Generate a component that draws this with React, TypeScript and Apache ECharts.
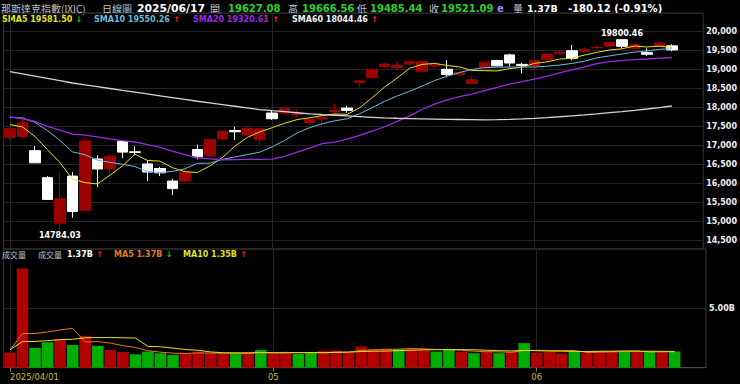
import React, { useEffect, useRef } from 'react';
import * as echarts from 'echarts';

const TITLE = '那斯達克指數(IXIC)';
const PERIOD = '日線圖';
const VOL_TITLE = '成交量';

const dates = [
  '2025/04/01','2025/04/02','2025/04/03','2025/04/04','2025/04/07','2025/04/08','2025/04/09','2025/04/10','2025/04/11','2025/04/14',
  '2025/04/15','2025/04/16','2025/04/17','2025/04/21','2025/04/22','2025/04/23','2025/04/24','2025/04/25','2025/04/28','2025/04/29',
  '2025/04/30','2025/05/01','2025/05/02','2025/05/05','2025/05/06','2025/05/07','2025/05/08','2025/05/09','2025/05/12','2025/05/13',
  '2025/05/14','2025/05/15','2025/05/16','2025/05/19','2025/05/20','2025/05/21','2025/05/22','2025/05/23','2025/05/27','2025/05/28',
  '2025/05/29','2025/05/30','2025/06/02','2025/06/03','2025/06/04','2025/06/05','2025/06/06','2025/06/09','2025/06/10','2025/06/11',
  '2025/06/12','2025/06/13','2025/06/16','2025/06/17',
];

const opens = [
  17220, 17240, 16870, 16160, 14960, 16200, 15300, 16650, 16390, 17110,
  16840, 16520, 16400, 16070, 16070, 16900, 16735, 17180, 17400, 17280,
  17160, 17860, 17860, 17820, 17610, 17700, 17890, 17990, 18660, 18790,
  19080, 19050, 19150, 18950, 19100, 19010, 18870, 18640, 19050, 19240,
  19390, 19140, 19110, 19270, 19420, 19500, 19480, 19580, 19620, 19790,
  19560, 19450, 19610, 19627.08,
];
const highs = [
  17488, 17720, 16990, 16200, 16292, 16310, 17200, 16750, 16780, 17130,
  16990, 16620, 16440, 16130, 16390, 17030, 17180, 17400, 17500, 17480,
  17470, 17940, 18020, 17960, 17760, 17860, 18110, 18050, 18715, 19060,
  19180, 19200, 19240, 19240, 19200, 19250, 19060, 18830, 19220, 19260,
  19420, 19180, 19260, 19440, 19520, 19650, 19580, 19640, 19740, 19800.46,
  19680, 19560, 19740, 19666.56,
];
const lows = [
  17160, 17200, 16540, 15575, 14784.03, 15105, 15280, 15910, 16250, 16680,
  16750, 16070, 16200, 15700, 16040, 16640, 16720, 17140, 17150, 17262,
  17000, 17680, 17830, 17750, 17560, 17550, 17800, 17870, 18530, 18770,
  19040, 19020, 19100, 18930, 19050, 18800, 18830, 18620, 19000, 19090,
  19080, 18900, 19000, 19230, 19390, 19250, 19470, 19540, 19590, 19560,
  19540, 19360, 19590, 19485.44,
];
const closes = [
  17449.89, 17601.05, 16550.61, 15587.79, 15603.26, 15267.91, 17124.97, 16387.31, 16724.46, 16831.48,
  16823.17, 16307.16, 16286.45, 15870.90, 16300.42, 16708.05, 17166.04, 17382.94, 17366.13, 17461.32,
  17446.34, 17710.74, 17977.73, 17844.24, 17689.66, 17738.16, 17928.14, 17928.92, 18708.34, 19010.09,
  19146.81, 19112.32, 19211.10, 19215.46, 19142.71, 18872.64, 18925.74, 18737.21, 19199.16, 19100.94,
  19175.87, 19113.77, 19242.61, 19398.96, 19460.49, 19298.45, 19529.95, 19591.24, 19714.99, 19615.88,
  19662.48, 19406.83, 19701.21, 19521.09,
];
const prevClose = 17299.29;

const sma5 = [
  17555, 17495, 17245, 16898, 16559, 16122, 16027, 15994, 16221, 16467,
  16778, 16614, 16594, 16424, 16317, 16294, 16466, 16686, 16985, 17217,
  17364, 17473, 17592, 17688, 17734, 17792, 17836, 17826, 17999, 18263,
  18544, 18781, 19038, 19139, 19166, 19111, 19074, 18979, 18976, 18967,
  19028, 19065, 19167, 19207, 19278, 19303, 19386, 19456, 19519, 19550,
  19623, 19598, 19620, 19581.50,
];
const sma10 = [
  17746, 17731, 17617, 17398, 17139, 16839, 16761, 16620, 16560, 16513,
  16450, 16321, 16294, 16323, 16392, 16536, 16540, 16640, 16704, 16767,
  16829, 16970, 17139, 17336, 17475, 17578, 17655, 17709, 17843, 17998,
  18168, 18308, 18432, 18569, 18714, 18828, 18927, 19008, 19057, 19066,
  19069, 19070, 19073, 19091, 19123, 19165, 19226, 19311, 19363, 19414,
  19463, 19492, 19538, 19550.26,
];
const sma20 = [
  17760, 17713, 17637, 17506, 17413, 17305, 17278, 17233, 17181, 17132,
  17098, 17026, 16956, 16860, 16766, 16687, 16651, 16630, 16632, 16640,
  16640, 16645, 16717, 16829, 16934, 17057, 17097, 17175, 17274, 17383,
  17499, 17639, 17785, 17953, 18095, 18203, 18291, 18359, 18450, 18532,
  18619, 18689, 18752, 18830, 18918, 18996, 19077, 19160, 19210, 19240,
  19266, 19281, 19305, 19320.61,
];
const sma60 = [
  18948, 18890, 18830, 18770, 18710, 18650, 18600, 18555, 18505, 18455,
  18410, 18362, 18314, 18266, 18218, 18170, 18126, 18082, 18038, 17994,
  17950, 17922, 17895, 17867, 17840, 17820, 17802, 17784, 17766, 17748,
  17730, 17722, 17715, 17708, 17701, 17695, 17690, 17685, 17680, 17685,
  17695, 17706, 17720, 17740, 17762, 17786, 17810, 17838, 17868, 17898,
  17930, 17966, 18004, 18044.46,
];

// volume in billions
const volumes = [
  1.27, 8.36, 1.69, 2.15, 2.41, 1.92, 2.69, 1.84, 1.50, 1.33,
  1.13, 1.36, 1.22, 1.08, 1.22, 1.36, 1.27, 1.16, 1.22, 1.27,
  1.50, 1.22, 1.22, 1.16, 1.30, 1.42, 1.44, 1.30, 1.78, 1.56,
  1.61, 1.56, 1.61, 1.56, 1.36, 1.50, 1.33, 1.22, 1.36, 1.22,
  1.36, 2.07, 1.27, 1.33, 1.20, 1.36, 1.25, 1.42, 1.42, 1.38,
  1.38, 1.38, 1.34, 1.37,
];
const volMA5 = [
  1.49, 2.87, 2.88, 3.01, 3.18, 3.31, 2.17, 2.20, 2.07, 1.86,
  1.70, 1.43, 1.31, 1.22, 1.20, 1.25, 1.23, 1.22, 1.25, 1.26,
  1.28, 1.27, 1.29, 1.27, 1.28, 1.26, 1.31, 1.32, 1.45, 1.50,
  1.54, 1.56, 1.62, 1.58, 1.54, 1.52, 1.47, 1.39, 1.35, 1.33,
  1.30, 1.45, 1.46, 1.45, 1.45, 1.45, 1.28, 1.31, 1.33, 1.37,
  1.37, 1.40, 1.38, 1.37,
];
const volMA10 = [
  1.52, 2.20, 2.21, 2.28, 2.36, 2.40, 2.52, 2.54, 2.54, 2.52,
  2.50, 1.80, 1.76, 1.65, 1.53, 1.47, 1.33, 1.26, 1.24, 1.23,
  1.27, 1.25, 1.25, 1.26, 1.27, 1.27, 1.29, 1.31, 1.36, 1.39,
  1.40, 1.44, 1.47, 1.51, 1.52, 1.53, 1.52, 1.51, 1.47, 1.43,
  1.41, 1.46, 1.43, 1.40, 1.39, 1.37, 1.36, 1.38, 1.39, 1.41,
  1.41, 1.34, 1.346, 1.35,
];

const NUM = '"DejaVu Sans", Verdana, sans-serif';
const CJK = '"Noto Sans CJK TC", "Noto Sans CJK SC", sans-serif';
const GRAY = '#c4c4c4';
const UP_RED = '#9c0000';
const VOL_RED = '#b00000';
const VOL_GREEN = '#00ad00';
const TXT_GREEN = '#2bd12b';
const ARROW_RED = '#ff2424';
const ARROW_GREEN = '#1fd01f';

const C5 = '#e4e41c';
const C10 = '#6fb9dc';
const C20 = '#9a2ae6';
const C60 = '#d4d4d4';
const CV5 = '#e07a2a';
const CV10 = '#e2e222';

const monthStart = (i: number) =>
  i === 0 || (i < dates.length && dates[i].slice(5, 7) !== dates[i - 1].slice(5, 7));

export default function App() {
  const ref = useRef<HTMLDivElement>(null);

  useEffect(() => {
    if (!ref.current) return;
    const chart = echarts.init(ref.current, null, { renderer: 'svg' });
    const n = closes.length;
    const last = n - 1;
    const candleData = dates.map((_, i) => [opens[i], closes[i], lows[i], highs[i]]);
    const volData = volumes.map((v, i) => {
      const pc = i === 0 ? prevClose : closes[i - 1];
      return { value: v, itemStyle: { color: closes[i] >= pc ? VOL_RED : VOL_GREEN } };
    });
    const pcl = closes[last - 1];
    const chg = closes[last] - pcl;
    const pct = (chg / pcl) * 100;
    const priceColor = (v: number) => (v >= pcl ? ARROW_RED : TXT_GREEN);

    const txt = (x: number, y: number, text: string, fill: string, font: string, lh: number) => ({
      type: 'text', x, y, silent: true,
      style: { text, fill, font, lineHeight: lh, verticalAlign: 'middle', align: 'left' },
    });
    const legend = (x: number, y: number, label: string, color: string, up: boolean) => ({
      type: 'text', x, y, silent: true,
      style: {
        text: `{t|${label}} {${up ? 'u' : 'd'}|${up ? '↑' : '↓'}}`,
        verticalAlign: 'middle', align: 'left', lineHeight: 8,
        rich: {
          t: { fill: color, font: `bold 8px ${NUM}`, lineHeight: 8 },
          u: { fill: ARROW_RED, font: `bold 8px ${NUM}`, lineHeight: 8 },
          d: { fill: ARROW_GREEN, font: `bold 8px ${NUM}`, lineHeight: 8 },
        },
      },
    });
    const f2 = (v: number) => v.toFixed(2);
    const H1 = 8;
    const H2 = 19;
    const HV = 254.5;
    const HF = `10px ${CJK}`;
    const NF = `bold 10px ${NUM}`;

    const graphic = [
      txt(1, H1, TITLE, GRAY, HF, 10),
      txt(102, H1, PERIOD, GRAY, HF, 10),
      txt(137, H1, dates[last], '#ffffff', `bold 10.8px ${NUM}`, 10),
      txt(210, H1, '開', GRAY, HF, 10),
      txt(228, H1, f2(opens[last]), priceColor(opens[last]), NF, 10),
      txt(288, H1, '高', GRAY, HF, 10),
      txt(302, H1, f2(highs[last]), priceColor(highs[last]), NF, 10),
      txt(357, H1, '低', GRAY, HF, 10),
      txt(370, H1, f2(lows[last]), priceColor(lows[last]), NF, 10),
      txt(429, H1, '收', GRAY, HF, 10),
      txt(441, H1, f2(closes[last]), priceColor(closes[last]), NF, 10),
      txt(497, H1, 'e', '#9d8cff', NF, 10),
      txt(513, H1, '量', GRAY, HF, 10),
      txt(527, H1, `${f2(volumes[last])}B`, '#ffffff', `bold 9.5px ${NUM}`, 10),
      txt(568, H1, `${f2(chg)} (${f2(pct)}%)`, '#ffffff', NF, 10),
      legend(2, H2, `SMA5 ${f2(sma5[last])}`, C5, sma5[last] >= sma5[last - 1]),
      legend(94, H2, `SMA10 ${f2(sma10[last])}`, C10, sma10[last] >= sma10[last - 1]),
      legend(193, H2, `SMA20 ${f2(sma20[last])}`, C20, sma20[last] >= sma20[last - 1]),
      legend(292, H2, `SMA60 ${f2(sma60[last])}`, '#f2f2f2', sma60[last] >= sma60[last - 1]),
      txt(2, HV, VOL_TITLE, GRAY, `8px ${CJK}`, 8),
      txt(38, HV, VOL_TITLE, GRAY, `8px ${CJK}`, 8),
      legend(67, HV, `${f2(volumes[last])}B`, '#ffffff', volumes[last] >= volumes[last - 1]),
      legend(114, HV, `MA5 ${f2(volMA5[last])}B`, CV5, volMA5[last] >= volMA5[last - 1]),
      legend(183, HV, `MA10 ${f2(volMA10[last])}B`, CV10, volMA10[last] >= volMA10[last - 1]),
    ];

    const gridLine = '#242424';
    const border = '#3a3434';

    const option: any = {
      animation: false,
      backgroundColor: '#000000',
      graphic,
      grid: [
        { left: 3.7, right: 34, top: 13, height: 236, show: true, borderColor: border, borderWidth: 1 },
        { left: 3.7, right: 34, top: 249, height: 118.7, show: true, borderColor: border, borderWidth: 1 },
      ],
      xAxis: [
        {
          type: 'category', gridIndex: 0, data: dates, max: 55, boundaryGap: true,
          axisLine: { show: false }, axisTick: { show: false }, axisLabel: { show: false },
          splitLine: { show: true, interval: (i: number) => monthStart(i), alignWithLabel: true, lineStyle: { color: gridLine, width: 1 } },
        },
        {
          type: 'category', gridIndex: 1, data: dates, max: 55, boundaryGap: true,
          axisLine: { show: true, lineStyle: { color: '#4a4a4a' } },
          axisTick: { show: true, interval: (i: number) => monthStart(i), alignWithLabel: true, length: 4, lineStyle: { color: '#777' } },
          splitLine: { show: true, interval: (i: number) => monthStart(i), alignWithLabel: true, lineStyle: { color: gridLine, width: 1 } },
          axisLabel: {
            show: true, interval: (i: number) => monthStart(i), alignMinLabel: 'left',
            color: '#c9bf3c', fontSize: 8.5, fontFamily: NUM, margin: 5,
            formatter: (v: string, i: number) => (i === 0 ? v : v ? v.slice(5, 7) : ''),
          },
        },
      ],
      yAxis: [
        {
          type: 'value', gridIndex: 0, position: 'right', min: 14282, max: 20492, splitNumber: 12, scale: true,
          axisLine: { show: false }, axisTick: { show: false },
          axisLabel: { color: '#f0f0f0', fontSize: 8, fontWeight: 'bold', fontFamily: NUM, margin: 3, showMinLabel: false, showMaxLabel: false },
          splitLine: { show: true, lineStyle: { color: gridLine, width: 1 } },
        },
        {
          type: 'value', gridIndex: 1, position: 'right', min: 0, max: 10, interval: 5,
          axisLine: { show: false }, axisTick: { show: false },
          axisLabel: {
            color: '#f0f0f0', fontSize: 8, fontWeight: 'bold', fontFamily: NUM, margin: 3,
            showMinLabel: false, showMaxLabel: false,
            formatter: (v: number) => `${v.toFixed(2)}B`,
          },
          splitLine: { show: true, lineStyle: { color: gridLine, width: 1 } },
        },
      ],
      series: [
        {
          type: 'candlestick', name: 'K', xAxisIndex: 0, yAxisIndex: 0, data: candleData, barWidth: '88%',
          itemStyle: { color: UP_RED, color0: '#ffffff', borderColor: UP_RED, borderColor0: '#ffffff', borderWidth: 1 },
          markPoint: {
            symbol: 'circle', symbolSize: 0, silent: true, animation: false,
            label: { show: true, color: '#ffffff', fontSize: 8, fontWeight: 'bold', fontFamily: NUM },
            data: [
              { type: 'max', valueDim: 'highest', label: { position: 'top', distance: 2, formatter: (p: any) => Number(p.value).toFixed(2) } },
              { type: 'min', valueDim: 'lowest', label: { position: 'bottom', distance: 2, formatter: (p: any) => Number(p.value).toFixed(2) } },
            ],
          },
        },
        { type: 'line', name: 'SMA5', xAxisIndex: 0, yAxisIndex: 0, data: sma5, symbol: 'none', lineStyle: { color: C5, width: 1 } },
        { type: 'line', name: 'SMA10', xAxisIndex: 0, yAxisIndex: 0, data: sma10, symbol: 'none', lineStyle: { color: C10, width: 1 } },
        { type: 'line', name: 'SMA20', xAxisIndex: 0, yAxisIndex: 0, data: sma20, symbol: 'none', lineStyle: { color: C20, width: 1.3 } },
        { type: 'line', name: 'SMA60', xAxisIndex: 0, yAxisIndex: 0, data: sma60, symbol: 'none', lineStyle: { color: C60, width: 1.3 } },
        { type: 'bar', name: 'VOL', xAxisIndex: 1, yAxisIndex: 1, data: volData, barWidth: '92%' },
        { type: 'line', name: 'VMA5', xAxisIndex: 1, yAxisIndex: 1, data: volMA5, symbol: 'none', lineStyle: { color: CV5, width: 1 } },
        { type: 'line', name: 'VMA10', xAxisIndex: 1, yAxisIndex: 1, data: volMA10, symbol: 'none', lineStyle: { color: CV10, width: 1 } },
      ],
    };
    chart.setOption(option);
    return () => chart.dispose();
  }, []);

  return (
    <div
      ref={ref}
      style={{ position: 'fixed', left: 0, top: 0, width: 740, height: 384, background: '#000' }}
    />
  );
}
